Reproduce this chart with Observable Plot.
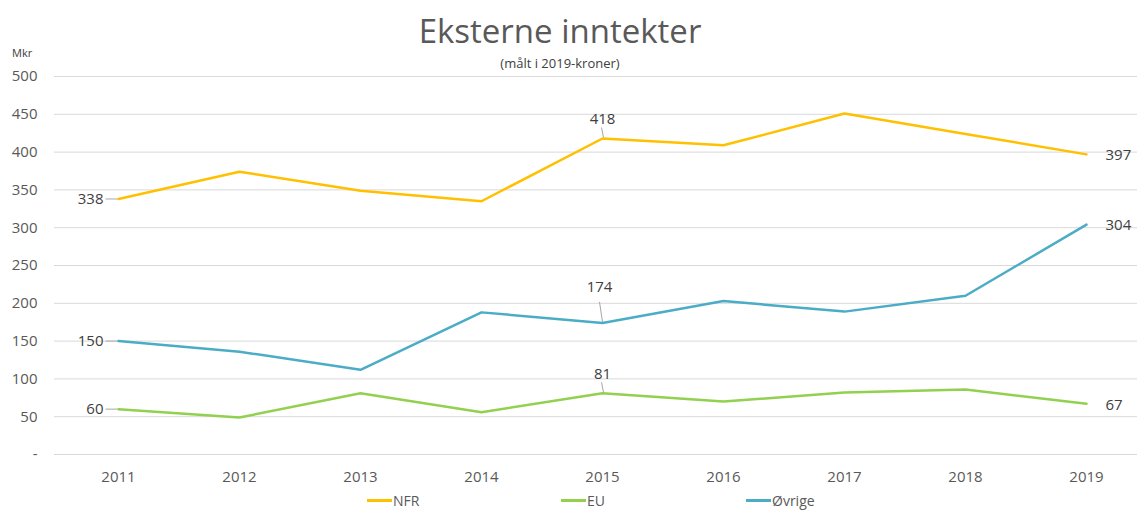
<!DOCTYPE html>
<html>
<head>
<meta charset="utf-8">
<script src="https://cdn.jsdelivr.net/npm/d3@7"></script>
<script src="https://cdn.jsdelivr.net/npm/@observablehq/plot@0.6"></script>
<style>
  body { margin: 0; background: #fff; font-family: "Open Sans", "Liberation Sans", sans-serif; }
  #wrap { position: relative; width: 1137px; height: 513px; overflow: hidden; }
  #title { position: absolute; left: 0; width: 1120px; top: 8px; text-align: center; font-size: 33px; color: #595959; }
  #sub { position: absolute; left: 0; width: 1120px; top: 54px; text-align: center; font-size: 13px; color: #404040; }
  #unit { position: absolute; left: 12px; top: 45px; font-size: 11px; color: #404040; }
  #legend { position: absolute; top: 491px; left: 0; width: 1137px; font-size: 14px; color: #595959; }
  .li { position: absolute; display: flex; align-items: center; }
  .sw { width: 25px; height: 3px; margin-right: 1px; }
</style>
</head>
<body>
<div id="wrap">
  <div id="chart"></div>
  <div id="title">Eksterne inntekter</div>
  <div id="sub">(målt i 2019-kroner)</div>
  <div id="unit">Mkr</div>
  <div id="legend"></div>
</div>
<script>
const years = ["2011","2012","2013","2014","2015","2016","2017","2018","2019"];
const seriesNames = ["NFR", "EU", "Øvrige"];
const nfr    = [338, 374, 349, 335, 418, 409, 451, 424, 397];
const eu     = [60, 49, 81, 56, 81, 70, 82, 86, 67];
const ovrige = [150, 136, 112, 188, 174, 203, 189, 210, 304];
const yTicks = [0, 50, 100, 150, 200, 250, 300, 350, 400, 450, 500];
const colors = ["#FFC000", "#92D050", "#4BACC6"];
// which years get a data label, and where it sits
const labelLeftYear = "2011";
const labelTopYear = "2015";
const labelRightYear = "2019";

const seriesValues = [nfr, eu, ovrige];
const data = [];
seriesNames.forEach((s, i) => years.forEach((y, j) => data.push({series: s, year: y, value: seriesValues[i][j]})));

const leftLabels = data.filter(d => d.year === labelLeftYear);
const topNear = data.filter(d => d.year === labelTopYear && d.series !== "Øvrige");
const topFar = data.filter(d => d.year === labelTopYear && d.series === "Øvrige");
const rightLabels = data.filter(d => d.year === labelRightYear);

const hLine = { draw(ctx) { ctx.moveTo(-6, 0); ctx.lineTo(6, 0); } };
const vShort = { draw(ctx) { ctx.moveTo(-1, -5); ctx.lineTo(1, 5); } };
const vLong = { draw(ctx) { ctx.moveTo(-3, -10); ctx.lineTo(0, 10); } };

const font = '"Open Sans", "Liberation Sans", sans-serif';

const chart = Plot.plot({
  width: 1137,
  height: 513,
  marginTop: 76,
  marginBottom: 59,
  marginLeft: 54,
  marginRight: 0,
  style: { fontFamily: font, fontSize: "15px", color: "#595959", background: "transparent" },
  x: { type: "point", domain: years, range: [115, 1089], padding: 0, label: null },
  y: { domain: [0, 500], label: null },
  color: { domain: seriesNames, range: colors },
  marks: [
    Plot.gridY(yTicks, { stroke: "#d9d9d9", strokeOpacity: 1, strokeWidth: 1 }),
    Plot.axisY(yTicks, { tickSize: 0, tickPadding: 17, label: null, tickFormat: d => d === 0 ? "-" : d, fontSize: 15 }),
    Plot.axisX({ tickSize: 0, tickPadding: 17, label: null, fontSize: 15 }),
    Plot.dot(leftLabels, { x: "year", y: "value", symbol: hLine, stroke: "#a6a6a6", strokeWidth: 1, dx: -7, r: 3 }),
    Plot.dot(topNear, { x: "year", y: "value", symbol: vShort, stroke: "#a6a6a6", strokeWidth: 1, dy: -6, r: 3 }),
    Plot.dot(topFar, { x: "year", y: "value", symbol: vLong, stroke: "#a6a6a6", strokeWidth: 1, dy: -11, r: 3 }),
    Plot.lineY(data, { x: "year", y: "value", z: "series", stroke: "series", strokeWidth: 2.5 }),
    Plot.text(leftLabels, { x: "year", y: "value", text: d => String(d.value), textAnchor: "end", dx: -15, dy: 0, fill: "#404040", fontSize: 15 }),
    Plot.text(topNear, { x: "year", y: "value", text: d => String(d.value), dy: -19, fill: "#404040", fontSize: 15 }),
    Plot.text(topFar, { x: "year", y: "value", text: d => String(d.value), dx: -3, dy: -36, fill: "#404040", fontSize: 15 }),
    Plot.text(rightLabels, { x: "year", y: "value", text: d => String(d.value), textAnchor: "start", dx: 19, dy: 1, fill: "#404040", fontSize: 15 })
  ]
});
document.getElementById("chart").appendChild(chart);

const legendPos = [367, 561, 746];
const legend = document.getElementById("legend");
seriesNames.forEach((s, i) => {
  const it = document.createElement("div");
  it.className = "li";
  it.style.left = legendPos[i] + "px";
  it.innerHTML = `<span class="sw" style="background:${colors[i]}"></span><span>${s}</span>`;
  legend.appendChild(it);
});
</script>
</body>
</html>
